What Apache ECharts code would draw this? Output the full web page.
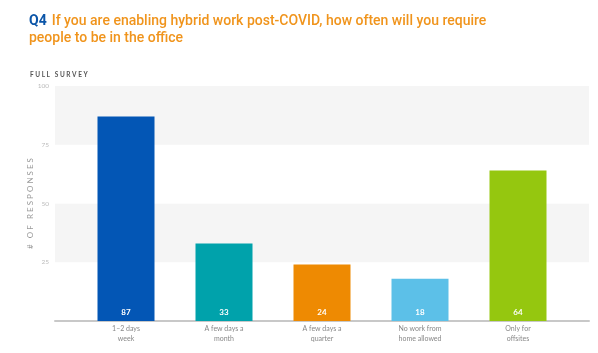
<!DOCTYPE html>
<html>
<head>
<meta charset="utf-8">
<script src="https://cdn.jsdelivr.net/npm/echarts@6/dist/echarts.min.js"></script>
<style>
  html, body { margin: 0; padding: 0; background: #fff; }
  #chart { width: 598px; height: 353px; }
</style>
</head>
<body>
<div id="chart"></div>
<script>
const categories = ['1–2 days\nweek', 'A few days a\nmonth', 'A few days a\nquarter', 'No work from\nhome allowed', 'Only for\noffsites'];
const values = [87, 33, 24, 18, 64];
const barColors = ['#0356b5', '#00a2ab', '#ee8a02', '#5cc0e8', '#95c70f'];
const yTicks = [0, 25, 50, 75, 100];

var chart = echarts.init(document.getElementById('chart'));

var option = {
    animation: false,
    title: [
        {
            text: '{q|Q4} {t|If you are enabling hybrid work post-COVID, how often will you require}\n{t|people to be in the office}',
            left: 24,
            top: 7,
            textStyle: {
                rich: {
                    q: { color: '#0b55a8', fontSize: 14, fontWeight: 'bold', fontFamily: 'Roboto', lineHeight: 17 },
                    t: { color: '#f0941c', fontSize: 14, fontWeight: 500, fontFamily: 'Roboto', lineHeight: 17 }
                }
            }
        },
        {
            text: 'F U L L   S U R V E Y',
            left: 25,
            top: 66,
            textStyle: { color: '#555', fontSize: 6.5, fontWeight: 'bold', fontFamily: 'Lato' }
        }
    ],
    grid: [
        { left: 55, right: 9, top: 86, bottom: 32 },   // background bands + axis line
        { left: 77, right: 31, top: 86, bottom: 32 }   // bars
    ],
    xAxis: [
        {
            gridIndex: 0, type: 'value', min: 0, max: 1,
            axisLine: { show: true, lineStyle: { color: '#c8c8c8', width: 2 } },
            axisTick: { show: false }, axisLabel: { show: false }, splitLine: { show: false }
        },
        {
            gridIndex: 1, type: 'category', data: categories,
            axisLine: { show: false }, axisTick: { show: false },
            axisLabel: { color: '#888', fontSize: 7, fontFamily: 'Lato', lineHeight: 10, margin: 3, interval: 0 }
        }
    ],
    yAxis: [
        {
            gridIndex: 0, type: 'value', min: 0, max: 100, interval: 25,
            name: '#   O F   R E S P O N S E S',
            nameLocation: 'middle', nameGap: 21, nameRotate: 90,
            nameMoveOverlap: false,
            nameTextStyle: { color: '#999', fontSize: 8, fontFamily: 'Lato' },
            axisLine: { show: false }, axisTick: { show: false },
            axisLabel: {
                color: '#bbb', fontSize: 6.5, fontFamily: 'Lato', margin: 6,
                formatter: function (v) { return v === 0 ? '' : v; }
            },
            splitLine: { show: false },
            splitArea: { show: true, areaStyle: { color: ['#ffffff', '#f5f5f5'] } }
        },
        {
            gridIndex: 1, type: 'value', min: 0, max: 100, interval: 25,
            axisLine: { show: false }, axisTick: { show: false }, axisLabel: { show: false },
            splitLine: { show: false }
        }
    ],
    series: [
        {
            type: 'bar',
            xAxisIndex: 1,
            yAxisIndex: 1,
            barWidth: 57,
            data: values.map(function (v, i) {
                return { value: v, itemStyle: { color: barColors[i] } };
            }),
            label: {
                show: true,
                position: 'insideBottom',
                distance: 5,
                color: '#fff',
                fontSize: 8,
                fontWeight: 'bold',
                fontFamily: 'Lato'
            }
        }
    ]
};

chart.setOption(option);
</script>
</body>
</html>
